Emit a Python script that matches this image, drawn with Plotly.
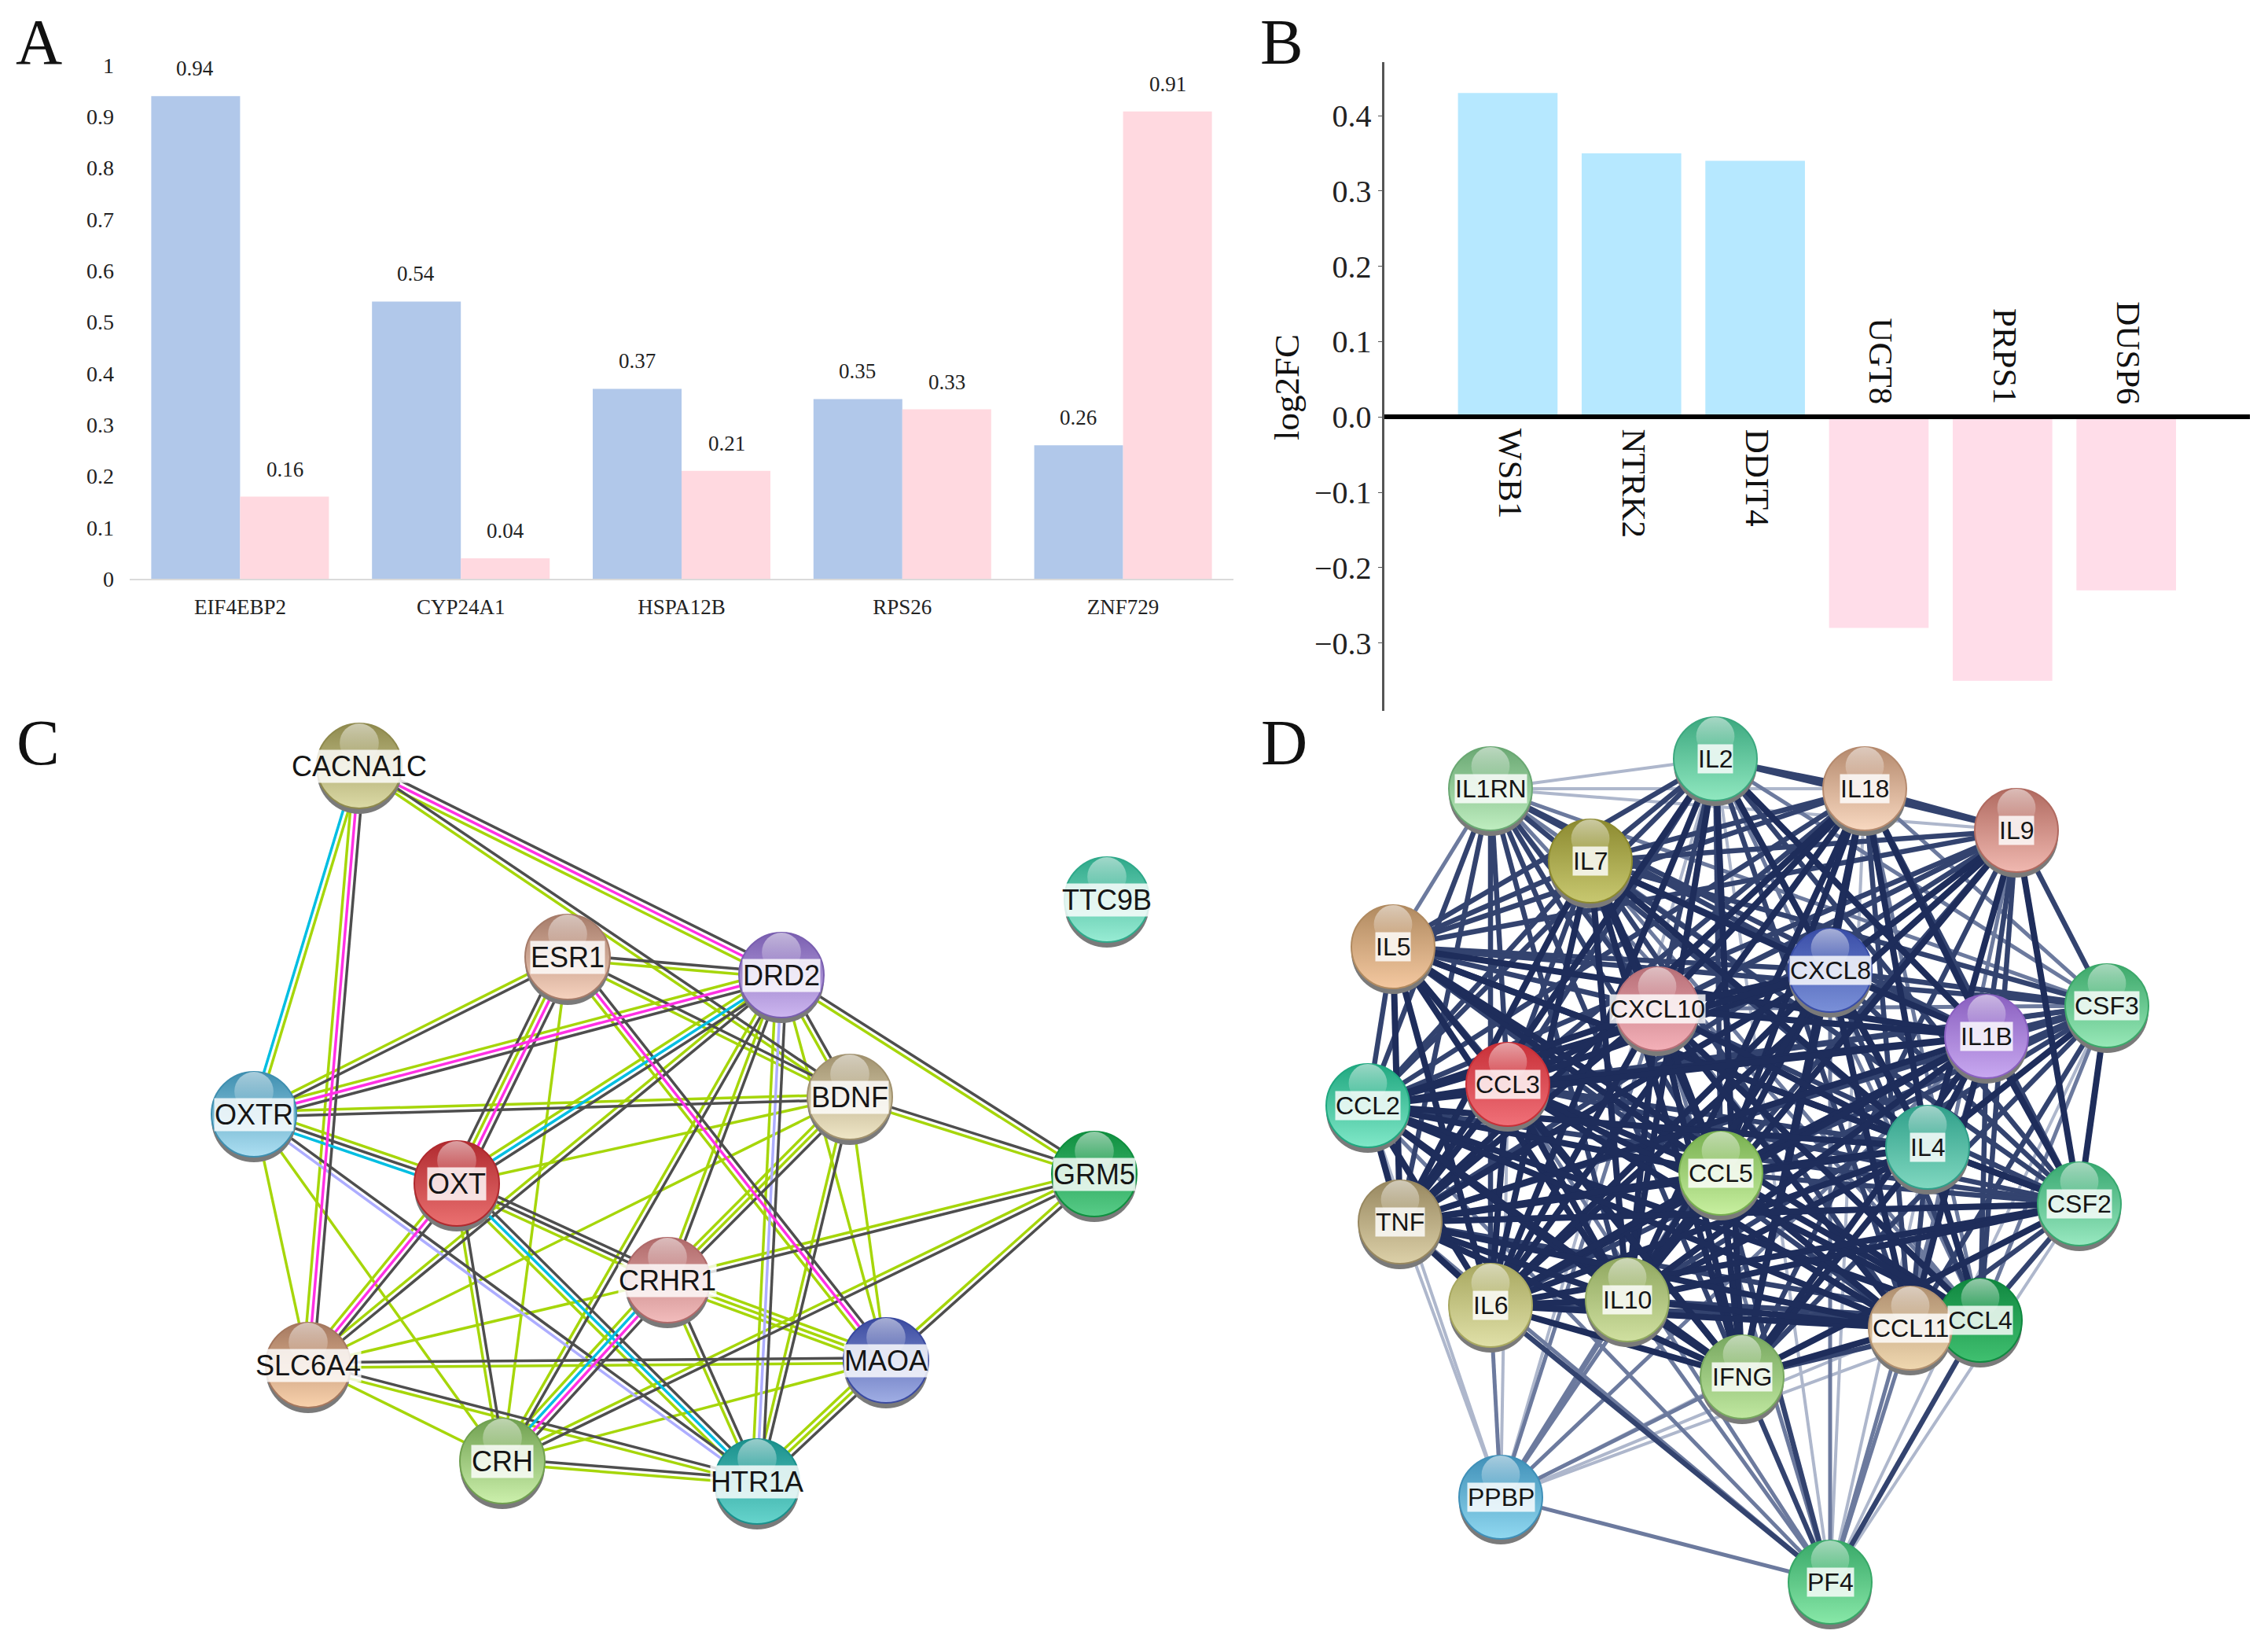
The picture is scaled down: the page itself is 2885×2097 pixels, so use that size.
import plotly.graph_objects as go

W, H = 2885, 2097
SERIF = "Liberation Serif"
SANS = "Liberation Sans"

# ---------- Panel A ----------
a_genes = ["EIF4EBP2", "CYP24A1", "HSPA12B", "RPS26", "ZNF729"]
a_blue = [0.94, 0.54, 0.37, 0.35, 0.26]
a_pink = [0.16, 0.04, 0.21, 0.33, 0.91]
a_ticks = [0, 0.1, 0.2, 0.3, 0.4, 0.5, 0.6, 0.7, 0.8, 0.9, 1]
a_ticktext = ["0", "0.1", "0.2", "0.3", "0.4", "0.5", "0.6", "0.7", "0.8", "0.9", "1"]

# ---------- Panel B ----------
b_genes = ["WSB1", "NTRK2", "DDIT4", "UGT8", "PRPS1", "DUSP6"]
b_values = [0.43, 0.35, 0.34, -0.28, -0.35, -0.23]
b_ticks = [-0.3, -0.2, -0.1, 0.0, 0.1, 0.2, 0.3, 0.4]
b_ticktext = ["\u22120.3", "\u22120.2", "\u22120.1", "0.0", "0.1", "0.2", "0.3", "0.4"]

# ---------- Panel C network ----------
c_names = ["CACNA1C", "TTC9B", "ESR1", "DRD2", "BDNF", "OXTR", "GRM5", "OXT", "CRHR1",
           "SLC6A4", "MAOA", "CRH", "HTR1A"]
c_x = [457, 1408, 722, 994, 1081, 323, 1392, 581, 849, 392, 1127, 639, 963]
c_y = [974, 1144, 1217, 1240, 1395, 1417, 1493, 1505, 1628, 1736, 1730, 1858, 1884]
c_top = ["#8f8a4e", "#2fa98a", "#a67c6a", "#7a5fb0", "#a1926f", "#3f8fb0", "#0f8f3f", "#b02a2f",
         "#b06a6a", "#a5785f", "#3a4aa0", "#70a050", "#1a908c"]
c_bottom = ["#dcdaa6", "#98ecd4", "#f6d2be", "#cdb6f0", "#efe6c6", "#addff2", "#58cc88", "#ea7070",
            "#f2bcbc", "#f9d2ac", "#a0aee4", "#ccf0ac", "#66d4cc"]
c_edges = [
    ("CACNA1C", "OXTR", "gc"), ("CACNA1C", "SLC6A4", "kmg"), ("CACNA1C", "DRD2", "kmg"),
    ("CACNA1C", "BDNF", "kg"), ("ESR1", "DRD2", "kg"), ("ESR1", "BDNF", "kg"), ("ESR1", "OXTR", "kg"),
    ("ESR1", "OXT", "kmgk"), ("ESR1", "CRH", "g"), ("ESR1", "MAOA", "kmg"), ("DRD2", "OXTR", "kmg"),
    ("DRD2", "OXT", "kcg"), ("DRD2", "BDNF", "kg"), ("DRD2", "GRM5", "kg"), ("DRD2", "CRHR1", "kg"),
    ("DRD2", "SLC6A4", "kg"), ("DRD2", "CRH", "kg"), ("DRD2", "HTR1A", "kpg"), ("DRD2", "MAOA", "g"),
    ("BDNF", "OXTR", "kg"), ("BDNF", "OXT", "g"), ("BDNF", "GRM5", "kg"), ("BDNF", "CRHR1", "kgg"),
    ("BDNF", "SLC6A4", "g"), ("BDNF", "HTR1A", "kg"), ("BDNF", "MAOA", "g"), ("OXTR", "OXT", "gkc"),
    ("OXTR", "SLC6A4", "g"), ("OXTR", "CRH", "g"), ("OXTR", "HTR1A", "kp"), ("OXT", "CRHR1", "kkg"),
    ("OXT", "SLC6A4", "kmg"), ("OXT", "CRH", "kg"), ("OXT", "HTR1A", "kcg"), ("GRM5", "CRHR1", "kg"),
    ("GRM5", "MAOA", "kg"), ("GRM5", "CRH", "kg"), ("CRHR1", "SLC6A4", "g"), ("CRHR1", "CRH", "kmcg"),
    ("CRHR1", "MAOA", "ggg"), ("CRHR1", "HTR1A", "kg"), ("SLC6A4", "MAOA", "kg"), ("SLC6A4", "CRH", "g"),
    ("SLC6A4", "HTR1A", "kg"), ("CRH", "MAOA", "g"), ("CRH", "HTR1A", "kg"), ("MAOA", "HTR1A", "kgg"),
]

# ---------- Panel D network ----------
d_names = ["IL1RN", "IL2", "IL18", "IL9", "IL7", "IL5", "CXCL8", "CXCL10", "IL1B", "CSF3", "CCL3", "CCL2",
           "IL4", "CCL5", "CSF2", "TNF", "IL6", "IL10", "CCL4", "CCL11", "IFNG", "PPBP", "PF4"]
d_x = [1896, 2182, 2372, 2565, 2023, 1772, 2328, 2108, 2527, 2680, 1918, 1740,
       2452, 2189, 2645, 1781, 1896, 2070, 2519, 2430, 2216, 1909, 2328]
d_y = [1003, 965, 1003, 1056, 1095, 1204, 1234, 1283, 1318, 1279, 1379, 1406,
       1459, 1492, 1531, 1554, 1660, 1653, 1679, 1689, 1751, 1904, 2012]
d_top = ["#6aa873", "#3ca87f", "#b58a6e", "#b06a60", "#8c8a30", "#b08a60", "#3a4ea8", "#b87078", "#8a60c0",
         "#3ca86a", "#c83038", "#20a880", "#30a08a", "#78b050", "#38a870", "#988860", "#a8a860", "#90a860",
         "#108840", "#b09070", "#78a860", "#4090b8", "#38a868"]
d_bottom = ["#bfeec0", "#90e8c0", "#f8d8c0", "#f0b8b0", "#c8c870", "#f4c8a0", "#7a90d8", "#f4b0b8", "#c8a8f0",
            "#98e8b8", "#f07078", "#80e8c8", "#80d8c0", "#c8f0a0", "#98e8c0", "#dcd0a8", "#e0e0a8", "#d0e0a0",
            "#40c070", "#f0d8b0", "#c0e8a0", "#90d8f0", "#88e8a8"]
# upper triangle of the edge confidence read by eye: 0 none ... 4 strongest
d_strength = [
    "1111233323333233322300", "333333423343344423411", "33344423344344423401",
    "3343333343434432300", "344333344344423400", "33433344444443400",
    "4434444344434422", "424444344444422", "34444444434422", "3343433323301",
    "434344444412", "44344444412", "4444443401", "344444423", "44433411",
    "4434412", "434423", "34422", "4313", "412", "23", "2",
]

# ---------- Styles ----------
BLUE_A, PINK_A = "#B1C8EA", "#FFD9E0"
BLUE_B, PINK_B = "#B6E8FF", "#FFDDE9"
C_COLORS = {"g": "#A6D60A", "k": "#4E4E4E", "p": "#ADADFF", "c": "#00BEE2", "m": "#FF30E4"}
D_STYLES = {1: ("#AEB7CC", 4), 2: ("#6C7A9E", 5), 3: ("#33436F", 6.5), 4: ("#1E2D5B", 8)}


def fx(px):
    return px / W


def fy(px):
    return 1 - px / H


fig = go.Figure()

# A bars
fig.add_trace(go.Bar(x=a_genes, y=a_blue, marker_color=BLUE_A, marker_line_width=0, xaxis="x", yaxis="y"))
fig.add_trace(go.Bar(x=a_genes, y=a_pink, marker_color=PINK_A, marker_line_width=0, xaxis="x", yaxis="y"))

# B bars
fig.add_trace(go.Bar(x=b_genes, y=b_values,
                     marker_color=[BLUE_B if v > 0 else PINK_B for v in b_values],
                     marker_line_width=0, xaxis="x2", yaxis="y2"))

annotations = []
for g, bv, pv in zip(a_genes, a_blue, a_pink):
    for v, shift in ((bv, -57), (pv, 57)):
        annotations.append(dict(x=g, y=v, xref="x", yref="y", text=f"{v:.2f}", showarrow=False,
                                xshift=shift, yshift=35, yanchor="middle",
                                font=dict(family=SERIF, size=27, color="#222222")))
for g, v in zip(b_genes, b_values):
    annotations.append(dict(x=g, y=0, xref="x2", yref="y2", text=g, showarrow=False, textangle=90,
                            xshift=3, yshift=-13 if v > 0 else 14, yanchor="top" if v > 0 else "bottom",
                            font=dict(family=SERIF, size=43, color="#111111")))
for letter, px, py in (("A", 49, 54), ("B", 1630, 54), ("C", 48, 944), ("D", 1634, 944)):
    annotations.append(dict(x=fx(px), y=fy(py), xref="paper", yref="paper", text=letter, showarrow=False,
                            xanchor="center", yanchor="middle",
                            font=dict(family=SERIF, size=82, color="#111111")))
annotations.append(dict(x=fx(1637), y=fy(493), xref="paper", yref="paper", text="log2FC", showarrow=False,
                        textangle=-90, xanchor="center", yanchor="middle",
                        font=dict(family=SERIF, size=45, color="#111111")))


def line_trace(xs, ys, color, width):
    return go.Scatter(x=xs, y=ys, mode="lines", line=dict(color=color, width=width),
                      hoverinfo="skip", xaxis="x3", yaxis="y3")


def spheres(names, xs, ys, tops, bottoms, diam, fsize):
    fig.add_trace(go.Scatter(x=xs, y=[v + 7 for v in ys], mode="markers", hoverinfo="skip",
                             marker=dict(size=diam, color="#7a7a7a", line_width=0), xaxis="x3", yaxis="y3"))
    fig.add_trace(go.Scatter(x=xs, y=ys, mode="markers", hovertext=names, hoverinfo="text",
                             marker=dict(size=diam, color=tops, gradient=dict(type="vertical", color=bottoms),
                                         line=dict(width=2, color=tops)), xaxis="x3", yaxis="y3"))
    fig.add_trace(go.Scatter(x=xs, y=[v - diam * 0.27 for v in ys], mode="markers", hoverinfo="skip",
                             marker=dict(size=diam * 0.46, color="rgba(255,255,255,0.55)",
                                         gradient=dict(type="vertical", color="rgba(255,255,255,0)"),
                                         line_width=0),
                             xaxis="x3", yaxis="y3"))
    for n, x, y in zip(names, xs, ys):
        annotations.append(dict(x=x, y=y, xref="x3", yref="y3", text=n, showarrow=False,
                                bgcolor="rgba(255,255,255,0.82)", borderpad=0,
                                font=dict(family=SANS, size=fsize, color="#151515")))


# C edges, one trace per evidence colour
c_pos = {n: (x, y) for n, x, y in zip(c_names, c_x, c_y)}
GAP = 6.5
segments = {k: ([], []) for k in C_COLORS}
for a, b, kinds in c_edges:
    (x0, y0), (x1, y1) = c_pos[a], c_pos[b]
    dx, dy = x1 - x0, y1 - y0
    length = (dx * dx + dy * dy) ** 0.5
    nx, ny = -dy / length, dx / length
    for i, k in enumerate(kinds):
        off = (i - (len(kinds) - 1) / 2) * GAP
        segments[k][0].extend([x0 + nx * off, x1 + nx * off, None])
        segments[k][1].extend([y0 + ny * off, y1 + ny * off, None])
for k in ("g", "p", "k", "c", "m"):
    fig.add_trace(line_trace(segments[k][0], segments[k][1], C_COLORS[k], 3.5))
spheres(c_names, c_x, c_y, c_top, c_bottom, 108, 36)

# D edges, one trace per confidence level
d_seg = {s: ([], []) for s in D_STYLES}
for i, row in enumerate(d_strength):
    for off, ch in enumerate(row):
        s = int(ch)
        if s:
            j = i + 1 + off
            d_seg[s][0].extend([d_x[i], d_x[j], None])
            d_seg[s][1].extend([d_y[i], d_y[j], None])
for s in (1, 2, 3, 4):
    fig.add_trace(line_trace(d_seg[s][0], d_seg[s][1], D_STYLES[s][0], D_STYLES[s][1]))
spheres(d_names, d_x, d_y, d_top, d_bottom, 106, 32)

fig.update_layout(
    template="none",
    width=W, height=H, autosize=False, margin=dict(l=0, r=0, t=0, b=0, pad=0, autoexpand=False),
    paper_bgcolor="white", plot_bgcolor="rgba(0,0,0,0)", showlegend=False,
    barmode="group", bargap=0.195, bargroupgap=0,
    annotations=annotations,
    xaxis=dict(domain=[fx(165), fx(1569)], anchor="y", type="category", categoryorder="array",
               categoryarray=a_genes, showline=True, linecolor="#DADADA", linewidth=2, ticks="",
               showgrid=False, zeroline=False, ticklabelstandoff=11, automargin=False,
               tickfont=dict(family=SERIF, size=27, color="#222222")),
    yaxis=dict(domain=[fy(736), fy(83)], anchor="x", range=[0, 1], tickvals=a_ticks, ticktext=a_ticktext,
               showline=False, ticks="", showgrid=False, zeroline=False, ticklabelstandoff=19, automargin=False,
               tickfont=dict(family=SERIF, size=28, color="#222222")),
    xaxis2=dict(domain=[fx(1760.6), fx(2862)], anchor="free",
                position=fy(530), type="category", categoryorder="array", categoryarray=b_genes,
                range=[-1, 6], showline=True, linecolor="#000000", linewidth=6, ticks="",
                showticklabels=False, showgrid=False, zeroline=False, automargin=False),
    yaxis2=dict(domain=[fy(904), fy(79)], anchor="x2", range=[-0.39, 0.471], tickvals=b_ticks, ticktext=b_ticktext,
                showline=True, linecolor="#555555", linewidth=3, ticks="outside", ticklen=5, tickcolor="#555555",
                showgrid=False, zeroline=False, automargin=False,
                tickfont=dict(family=SERIF, size=40, color="#222222")),
    xaxis3=dict(domain=[0, 1], anchor="y3", range=[0, W], visible=False),
    yaxis3=dict(domain=[0, 1], anchor="x3", range=[H, 0], visible=False),
)

fig.write_html("out.html", post_script="document.body.style.margin='0';", config={"displayModeBar": False})
